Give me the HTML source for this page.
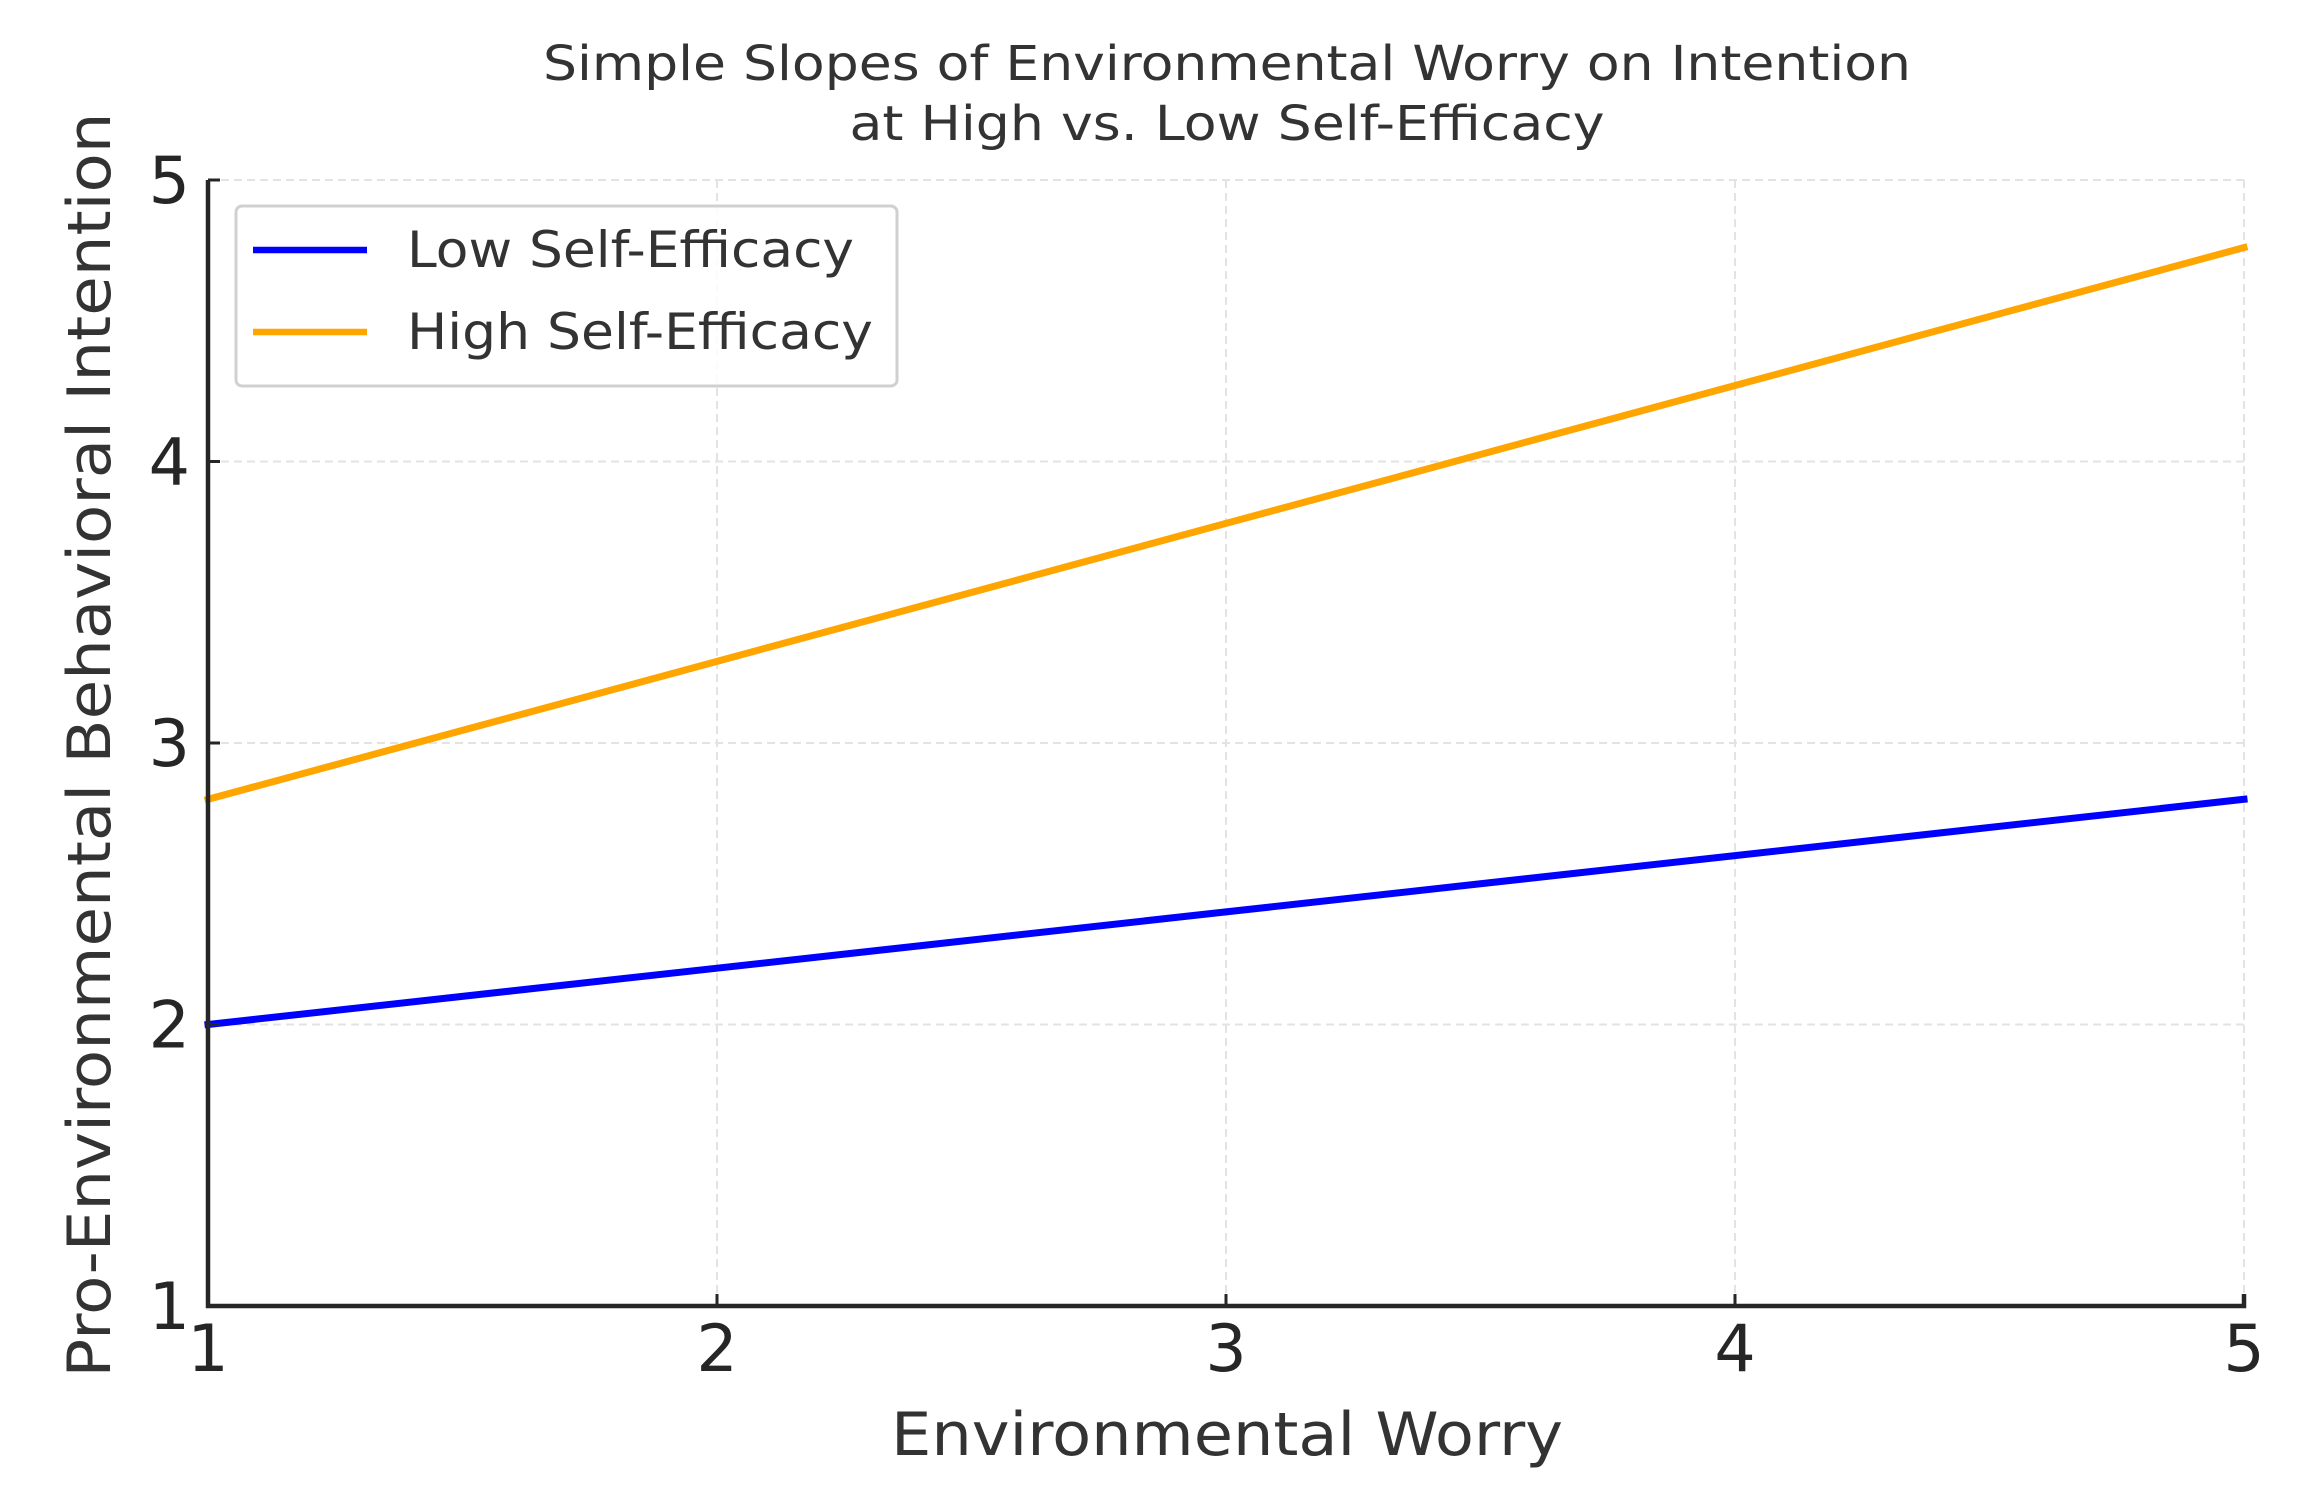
<!DOCTYPE html>
<html><head><meta charset="utf-8"><style>
html,body{margin:0;padding:0;background:#fff}
svg{display:block}
text{font-family:"DejaVu Sans","Liberation Sans",sans-serif;fill:#262626}
</style></head><body>
<svg id="chart" width="2308" height="1501" viewBox="0 0 2308 1501" xmlns="http://www.w3.org/2000/svg">
<rect width="2308" height="1501" fill="#fff"/>
<text x="1227" y="80" font-size="48" text-anchor="middle" textLength="1368" lengthAdjust="spacingAndGlyphs" style="fill:#333">Simple Slopes of Environmental Worry on Intention</text>
<text x="1227" y="140" font-size="48" text-anchor="middle" textLength="755" lengthAdjust="spacingAndGlyphs" style="fill:#333">at High vs. Low Self-Efficacy</text>
<g id="grid"></g>
<g id="series"></g>
<g id="axes"></g>
<text x="1227" y="1455" font-size="60" text-anchor="middle" textLength="672" lengthAdjust="spacingAndGlyphs" style="fill:#333">Environmental Worry</text>
<text transform="translate(110,745) rotate(-90)" font-size="60" text-anchor="middle" textLength="1265" lengthAdjust="spacingAndGlyphs" style="fill:#333">Pro-Environmental Behavioral Intention</text>
<g>
<rect x="236" y="206" width="661" height="180" rx="6" fill="#fff" fill-opacity="0.85" stroke="#d0d0d0" stroke-width="3"/>
<line x1="253" y1="250" x2="367" y2="250" stroke="#0000ff" stroke-width="6.5"/>
<text x="407" y="267" font-size="50" textLength="447" lengthAdjust="spacingAndGlyphs" style="fill:#333">Low Self-Efficacy</text>
<line x1="253" y1="332" x2="367" y2="332" stroke="#ffa500" stroke-width="6.5"/>
<text x="407" y="349" font-size="50" textLength="466" lengthAdjust="spacingAndGlyphs" style="fill:#333">High Self-Efficacy</text>
</g>
</svg>
<script>
const xValues = [1, 2, 3, 4, 5];
const lowSelfEfficacy = [2.0, 2.2, 2.4, 2.6, 2.8];
const highSelfEfficacy = [2.8, 3.29, 3.78, 4.27, 4.76];
const xTicks = [1, 2, 3, 4, 5];
const yTicks = [1, 2, 3, 4, 5];

const NS = "http://www.w3.org/2000/svg";
const L = 208, R = 2244, T = 180, B = 1306;
const xMin = 1, xMax = 5, yMin = 1, yMax = 5;
function sx(v){ return L + (v - xMin) / (xMax - xMin) * (R - L); }
function sy(v){ return B - (v - yMin) / (yMax - yMin) * (B - T); }
function mk(tag, attrs, parent){
  const e = document.createElementNS(NS, tag);
  for (const k in attrs) e.setAttribute(k, attrs[k]);
  parent.appendChild(e);
  return e;
}
const grid = document.getElementById('grid');
const axes = document.getElementById('axes');
const series = document.getElementById('series');

xTicks.forEach(t => {
  const g = mk('line', {x1: sx(t), x2: sx(t), y1: T, y2: B, stroke: '#e3e3e3', 'stroke-width': 2, 'stroke-dasharray': '8 5'}, grid);
  
  
  const tk = mk('line', {x1: sx(t), x2: sx(t), y1: B, y2: B - 12, stroke: '#262626', 'stroke-width': 3}, axes);
  
  
  const lb = mk('text', {x: sx(t), y: B + 65, 'font-size': 65, 'text-anchor': 'middle'}, axes);
  lb.textContent = t;
  
  
});
yTicks.forEach(t => {
  const g = mk('line', {x1: L, x2: R, y1: sy(t), y2: sy(t), stroke: '#e3e3e3', 'stroke-width': 2, 'stroke-dasharray': '8 5'}, grid);
  
  
  const tk = mk('line', {x1: L, x2: L + 12, y1: sy(t), y2: sy(t), stroke: '#262626', 'stroke-width': 3}, axes);
  
  
  const lb = mk('text', {x: L - 18, y: sy(t) + 23, 'font-size': 65, 'text-anchor': 'end'}, axes);
  lb.textContent = t;
  
  
});
const ax = mk('path', {d: `M${L},${T} L${L},${B} L${R},${B} L${R},${B-12}`, fill: 'none', stroke: '#262626', 'stroke-width': 4.5}, axes);



function drawLine(vals, color, name){
  const d = vals.map((v, i) => (i ? 'L' : 'M') + sx(xValues[i]) + ',' + sy(v)).join(' ');
  const p = mk('path', {d: d, fill: 'none', stroke: color, 'stroke-width': 7, 'stroke-linecap': 'square'}, series);
  
  
}
drawLine(lowSelfEfficacy, '#0000ff', 'low-self-efficacy-line');
drawLine(highSelfEfficacy, '#ffa500', 'high-self-efficacy-line');
</script>
</body></html>
